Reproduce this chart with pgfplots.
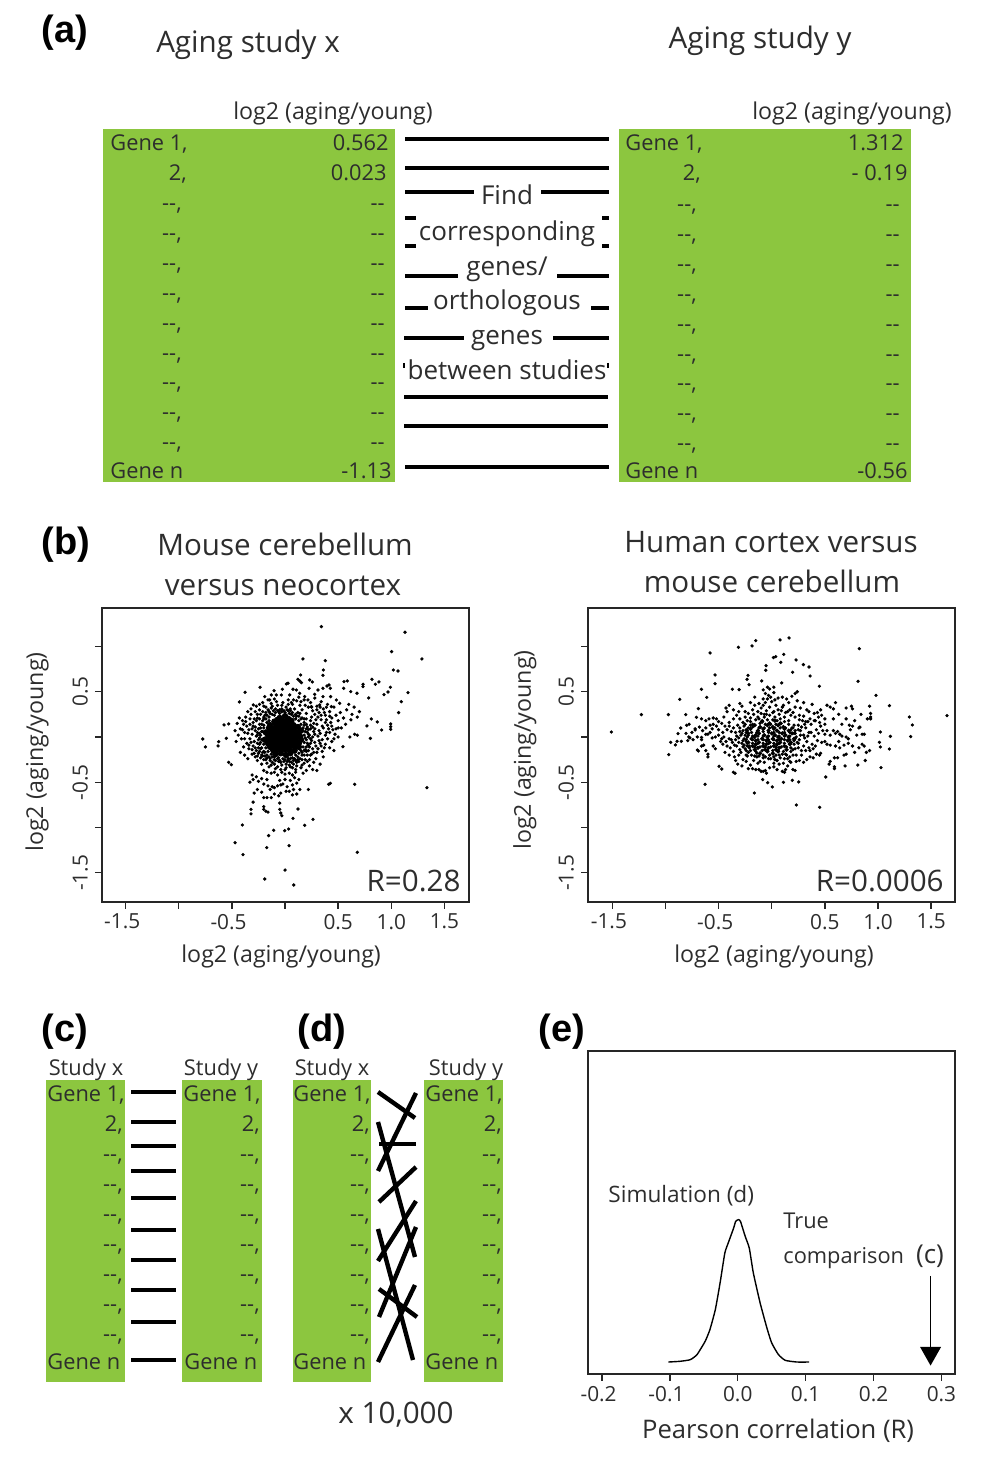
\documentclass[border=0pt]{standalone}
\usepackage{fontspec}
\usepackage{pgfplots}
\pgfplotsset{compat=1.18}
\setmainfont{Open Sans}
\newfontfamily\boldf{Liberation Sans}[BoldFont={Liberation Sans Bold}]
\definecolor{gr}{RGB}{140,198,63}
\definecolor{tx}{RGB}{45,45,45}
% sizes
\newcommand{\fa}{\fontsize{11.6}{13}\selectfont}
\newcommand{\fg}{\fontsize{10.9}{13}\selectfont}
\newcommand{\fm}{\fontsize{13}{15}\selectfont}
\newcommand{\fb}{\fontsize{14.8}{17}\selectfont}
\newcommand{\ft}{\fontsize{10.4}{12}\selectfont}
\pgfplotsset{
  sc/.style={
    scale only axis, width=183.5pt, height=147pt, anchor=south west,
    axis line style={line width=0.8pt,black!85},
    tick style={line width=0.7pt,black!85},
    tick align=outside, major tick length=3.5pt,
    xtick pos=bottom, ytick pos=left,
    ymin=-1.823, ymax=1.425,
    xtick={-1.5,-1,-0.5,0,0.5,1,1.5},
    xticklabels={\llap{-}1.5,,\llap{-}0.5,,0.5,1.0,1.5},
    ytick={-1.5,-1,-0.5,0,0.5,1},
    yticklabels={-1.5,,-0.5,,0.5,},
    tick label style={font=\ft,text=tx},
    xticklabel style={yshift=1pt},
    yticklabel style={rotate=90,anchor=south,yshift=0pt},
    label style={font=\fa,text=tx},
    clip=false,
  },
  dot/.style={only marks,mark=*,mark size=0.62pt,mark options={fill=black,draw=none}},
  core/.style={only marks,mark=*,mark size=1.4pt,mark options={fill=black,draw=none}},
  corer/.style={only marks,mark=*,mark size=0.85pt,mark options={fill=black,draw=none}},
}
\begin{document}
\begin{tikzpicture}
\useasboundingbox (0,0) rectangle (500pt,736pt);
% ---- scatter 1
\begin{axis}[sc, at={(51pt,285pt)}, xmin=-1.722, xmax=1.731,
  xlabel={log2 (aging/young)}, ylabel={log2 (aging/young)},
  xlabel style={at={(axis description cs:0.488,-0.187)},anchor=center},
  ylabel style={at={(axis description cs:-0.177,0.51)},anchor=center,rotate=0}]
\addplot[core] coordinates {
(-.05,.21)(.0,.23)(.03,.2)
(-.1,.17)(-.07,.19)(-.03,.18)(.01,.17)(.06,.18)
(-.14,.13)(-.09,.14)(-.05,.14)(-.01,.14)(.03,.14)(.08,.13)
(-.15,.10)(-.12,.09)(-.08,.10)(-.04,.10)(0,.10)(.04,.10)(.08,.09)(.12,.11)
(-.18,.05)(-.13,.06)(-.09,.06)(-.05,.06)(-.01,.06)(.03,.06)(.07,.06)(.11,.05)(.15,.07)
(-.16,.02)(-.14,.02)(-.10,.02)(-.06,.02)(-.02,.02)(.02,.02)(.06,.02)(.10,.02)(.14,.01)
(-.19,-.03)(-.14,-.02)(-.10,-.02)(-.06,-.02)(-.02,-.02)(.02,-.02)(.06,-.02)(.10,-.02)(.15,-.03)
(-.16,-.07)(-.13,-.06)(-.09,-.06)(-.05,-.06)(-.01,-.06)(.03,-.06)(.07,-.06)(.11,-.06)(.13,-.07)
(-.14,-.11)(-.11,-.10)(-.07,-.10)(-.03,-.10)(.01,-.10)(.05,-.10)(.09,-.10)(.13,-.11)
(-.11,-.15)(-.08,-.14)(-.04,-.14)(0,-.14)(.04,-.14)(.09,-.15)
(-.09,-.19)(-.04,-.18)(.01,-.2)(.05,-.18)
};
\addplot[dot] coordinates {
(.342,1.219)(1.129,1.157)(1.003,.943)(1.288,.862)(.169,.862)(.379,.843)(.361,.740)(.357,.681)(1.019,.740)(1.063,.729)(.147,.685)(.818,.637)(.884,.608)(.850,.582)(.555,.611)(.586,.619)(.552,.538)(.734,.582)(.734,.556)(.991,.549)(.969,.497)(.931,.468)(1.157,.490)(.677,.483)(.618,.501)(.787,.431)(1.094,.390)(1.069,.269)(.812,.199)(.868,.166)(.771,.122)(.909,.077)(.994,.144)(.994,.114)(.994,.085)(.803,-.015)(1.335,-.560)(.655,-.523)(.680,-1.274)(.411,-.523)(.426,-.512)(.263,-.910)(.185,-.976)(.075,-.899)(.122,-.796)(.034,-1.017)(-.003,-1.035)(.038,-1.201)(-.107,-1.031)(-.154,-1.090)(-.172,-1.223)(-.401,-.972)(-.470,-1.168)(-.395,-1.300)(0,-1.470)(-.191,-1.569)(.082,-1.635)(-.774,-.022)(-.749,-.110)(-.630,-.099)(-.624,-.052)(-.574,.133)(-.530,.144)(-.552,-.015)(-.530,-.280)(-.505,-.306)(-.376,.494)(-.429,.387)(-.235,.549)(-.298,.354)
(.013,.586)(.028,.593)(.122,.637)(.138,.619)(.154,.6)(.232,.63)(.257,.608)(.226,.538)(.107,.519)(.075,.527)(-.025,.527)(-.103,.512)(-.082,.464)(-.129,.464)(-.191,.446)(-.144,.409)(-.034,.464)(.044,.464)(.138,.483)(.279,.471)(.395,.563)(.414,.575)(.426,.538)(.357,.538)(.31,.519)(.185,.446)(.216,.409)(.357,.446)(.429,.446)(.483,.409)(.514,.372)(.436,.335)(.389,.328)(.326,.354)(.248,.335)
(-.27,.34)(-.24,.30)(-.21,.38)(-.18,.33)(-.15,.28)(-.13,.37)(-.10,.42)(-.07,.35)(-.05,.30)(-.02,.38)(.01,.33)(.03,.41)(.05,.29)(.07,.36)(.09,.31)(.11,.40)(.12,.27)(.14,.35)(.16,.30)(.18,.41)(.20,.26)(.22,.33)(.24,.38)(.26,.29)(.28,.43)(.30,.34)(.32,.27)(.34,.39)(.36,.31)(.38,.24)(.40,.36)(.42,.28)(.44,.21)(.46,.33)(.48,.24)(.50,.18)(.52,.27)(.55,.21)(.58,.30)(.60,.36)(.63,.25)(.65,.33)(.68,.22)(.70,.28)(.62,.19)(.57,.14)(.53,.10)
(-.45,.15)(-.42,.09)(-.40,.18)(-.38,.05)(-.36,.12)(-.44,.02)(-.41,-.02)(-.47,.07)(-.33,.20)(-.30,.16)(-.34,.08)(-.31,.03)(-.28,.11)(-.26,.21)(-.24,.14)(-.22,.06)(-.27,.01)(-.25,-.03)(-.29,-.05)(-.33,-.02)(-.36,-.07)(-.39,-.11)(-.34,-.13)(-.30,-.10)(-.27,-.15)(-.24,-.08)(-.22,-.12)(-.20,.10)(-.21,.18)(-.23,.25)(-.28,.28)(-.32,.25)(-.37,.22)(-.43,.21)(-.46,-.05)(-.42,-.17)(-.38,-.2)(-.35,-.24)(-.31,-.19)(-.28,-.22)(-.25,-.18)(-.22,-.2)(-.2,-.16)
(.18,.2)(.2,.14)(.22,.08)(.24,.18)(.26,.11)(.28,.03)(.3,.14)(.32,.07)(.34,.19)(.36,.1)(.38,.02)(.4,.13)(.42,.05)(.44,.12)(.46,-.02)(.48,.09)(.18,.02)(.2,-.03)(.22,-.09)(.24,-.02)(.26,-.13)(.28,-.06)(.3,-.17)(.32,-.04)(.34,-.1)(.36,-.22)(.38,-.08)(.4,-.02)(.42,-.12)(.44,-.05)(.46,-.15)(.19,-.14)(.21,-.2)(.23,-.25)(.25,-.19)(.27,-.28)(.29,-.24)(.33,-.3)(.35,-.16)(.47,.03)(.5,.1)(.545,-.107)(.61,0)(.655,.03)(.68,.02)(.5,0)
(-.26,-.26)(-.22,-.3)(-.18,-.25)(-.15,-.33)(-.12,-.28)(-.09,-.35)(-.06,-.27)(-.03,-.31)(0,-.36)(.03,-.26)(.05,-.33)(.08,-.3)(.1,-.36)(.13,-.27)(.15,-.34)(.18,-.29)(.2,-.37)(.23,-.32)(.26,-.36)(.3,-.37)(.17,-.4)(.1,-.39)(.07,-.42)(.04,-.4)(0,-.41)(-.03,-.39)(-.07,-.42)(-.1,-.39)(-.13,-.4)(-.17,-.39)(-.2,-.37)
(-.31,-.42)(-.3,-.47)(-.33,-.5)(-.27,-.44)(-.25,-.49)(-.22,-.46)(-.2,-.52)(-.16,-.54)(-.14,-.58)(-.12,-.55)(-.1,-.56)(-.07,-.54)(-.04,-.53)(-.02,-.52)(-.17,-.47)(-.05,-.48)(0,-.47)(.02,-.55)(.05,-.48)(.07,-.53)(.09,-.45)(.11,-.51)(.13,-.47)(.04,-.6)(.01,-.6)(.08,-.58)(.11,-.63)(.07,-.64)(-.04,-.62)(-.06,-.65)(-.1,-.63)(-.13,-.67)(-.17,-.67)(-.2,-.67)(-.22,-.61)(-.26,-.58)(-.29,-.62)(-.3,-.72)(-.32,-.8)(-.32,-.85)(-.2,-.77)(-.18,-.82)(-.16,-.83)(-.2,-.8)(-.05,-.73)(-.05,-.8)(-.04,-.84)(-.03,-.87)(.14,-.58)(.22,-.58)
(-.19,.24)(-.15,.22)(-.12,.25)(-.09,.27)(-.05,.26)(0,.27)(.04,.26)(.08,.23)(.1,.2)(.13,.18)(.15,.14)(.17,.1)(.19,.06)(.19,-.01)(.18,-.06)(.17,-.11)(.15,-.15)(.13,-.18)(.1,-.2)(.07,-.23)(.03,-.24)(-.02,-.24)(-.06,-.23)(-.1,-.22)(-.13,-.19)(-.16,-.16)(-.18,-.12)(-.2,-.08)(-.22,-.03)(-.23,.02)(-.21,.06)(-.2,.13)(-.17,.16)(-.15,.18)(-.24,.04)(.22,.03)(.24,.09)(.16,-.2)(.1,-.26)(-.14,-.24)(-.19,-.21)
(-.26,.05)(-.25,.09)(-.28,.07)(-.31,.09)(-.26,-.07)(-.28,-.12)(-.23,-.13)(-.25,-.12)(-.21,-.17)(-.19,-.17)(-.17,-.2)(-.15,-.22)(-.12,-.22)(-.09,-.26)(-.07,-.24)(-.04,-.28)(-.01,-.27)(.01,-.3)(.02,-.27)(.05,-.24)(.06,-.28)(.09,-.24)(.11,-.28)(.12,-.22)(.14,-.24)(.16,-.25)(.18,-.2)(.2,-.16)(.22,-.15)(.23,-.11)(.24,-.07)(.25,-.04)(.26,0)(.23,.02)(.21,.05)(.27,.06)(.28,.09)(.24,.13)(.21,.11)(.18,.16)(.2,.2)(.16,.21)(.13,.23)(.14,.26)(.1,.25)(.07,.27)(.05,.31)(.02,.3)(-.01,.29)(-.03,.31)(-.06,.28)(-.09,.31)(-.11,.29)(-.13,.32)(-.16,.3)(-.18,.27)(-.21,.28)(-.2,.22)(-.24,.2)(-.27,.18)(-.3,.12)(-.29,.2)(-.33,.14)(-.35,.04)(-.32,-.06)(-.34,-.09)(-.38,-.02)(-.4,.08)(-.39,.14)(-.37,.17)(-.31,-.14)(-.29,-.18)(-.26,-.21)(-.23,-.23)(-.2,-.25)(-.17,-.29)(-.13,-.31)(-.1,-.3)(-.07,-.33)(-.04,-.36)(.01,-.34)(.04,-.31)(.07,-.34)(.11,-.32)(.16,-.31)(.19,-.25)(.21,-.27)(.24,-.2)(.27,-.17)(.29,-.1)(.31,-.13)(.33,-.07)(.35,-.03)(.37,-.12)(.39,.05)(.31,.01)(.33,.04)(.35,.12)(.38,.16)(.41,.09)(.43,.16)(.45,.08)(.27,.15)(.29,.19)(.31,.22)(.25,.22)(.28,.25)(.34,.24)(.37,.27)(.33,.33)(.39,.19)(.42,.23)(.3,.3)(.25,.33)(.19,.35)(.15,.39)(.13,.44)(.08,.41)(.06,.38)(.03,.36)(-.03,.35)(-.08,.39)(-.12,.34)(-.16,.41)(-.2,.34)(-.24,.36)(-.26,.25)(-.32,.31)(-.35,.28)
(-.2,.2)(-.17,.24)(-.14,.26)(-.1,.24)(-.07,.29)(-.03,.28)(.03,.29)(.06,.25)(.11,.23)(.15,.2)(.18,.13)(.2,.09)(.22,0)(.21,-.07)(.2,-.11)(.18,-.15)(.16,-.17)(.12,-.25)(.08,-.26)(.04,-.27)(0,-.25)(-.05,-.26)(-.1,-.25)(-.14,-.26)(-.17,-.23)(-.21,-.21)(-.24,-.16)(-.23,-.06)(-.24,-.01)(-.26,.02)(-.23,.1)(-.22,.14)(-.18,.2)
};
\node[font=\fb,text=tx,anchor=east,inner sep=0pt] at (axis description cs:0.978,0.07) {R=0.28};
\end{axis}
% ---- scatter 2
\begin{axis}[sc, at={(294pt,285pt)}, xmin=-1.728, xmax=1.724,
  xlabel={log2 (aging/young)}, ylabel={log2 (aging/young)},
  xlabel style={at={(axis description cs:0.507,-0.187)},anchor=center},
  ylabel style={at={(axis description cs:-0.172,0.517)},anchor=center,rotate=0}]
\addplot[corer] coordinates {
(-.09,.17)(-.02,.15)(.03,.18)(.08,.15)
(-.16,.13)(-.11,.11)(-.04,.13)(.01,.11)(.06,.13)(.11,.11)
(-.2,.09)(-.13,.07)(-.08,.09)(-.03,.07)(.02,.09)(.05,.07)(.12,.09)(.16,.07)
(-.22,.04)(-.15,.02)(-.12,.04)(-.07,.02)(0,.04)(.03,.02)(.1,.04)(.13,.02)(.19,.04)
(-.19,-.02)(-.16,0)(-.09,-.02)(-.04,0)(.01,-.02)(.06,0)(.09,-.02)(.16,0)(.21,-.02)
(-.22,-.06)(-.15,-.04)(-.12,-.06)(-.05,-.04)(-.02,-.06)(.05,-.04)(.08,-.06)(.15,-.04)(.18,-.06)
(-.18,-.1)(-.15,-.08)(-.08,-.1)(-.05,-.08)(.02,-.1)(.05,-.08)(.12,-.1)(.17,-.08)
(-.16,-.14)(-.13,-.12)(-.06,-.14)(-.03,-.12)(.04,-.14)(.07,-.12)(.14,-.14)
(-.11,-.18)(-.04,-.16)(.01,-.18)(.06,-.16)
};
\addplot[dot] coordinates {
(-1.508,.055)(-1.226,.247)(-.972,.247)(-.969,-.195)(-.809,.247)(-.865,.416)(-.661,.527)(-.611,.438)(-.58,.928)(-.533,.685)(-.533,.589)(-.37,.527)(-.307,.523)(-.313,.991)(-.185,1.006)(-.15,1.064)(.078,1.072)(.163,1.094)(.824,.976)(.016,.877)(.038,.888)(.113,.913)(.085,.825)(.229,.851)(.298,.799)(.351,.773)(.197,.715)(.361,.674)(-.053,.788)(-.056,.737)(-.223,.681)(-.232,.637)(-.213,.578)(-.094,.619)(.094,.597)(.448,.56)(.812,.615)(.981,.46)(1.107,.346)(1.649,.236)(1.295,.221)(1.323,.133)(1.307,.004)(1.116,.007)(1.107,-.133)(1.022,.055)(1.013,-.059)(1.022,-.11)(1.028,-.339)(-.627,-.523)(-.163,-.619)(.232,-.751)(.451,-.777)(.508,-.442)(.006,-.552)(-.038,-.505)(-.085,-.471)(.11,-.501)(.194,-.479)(.254,-.497)(-.495,-.324)(-.47,-.354)(-.361,-.39)(-.345,-.401)(-.95,-.059)(-.906,-.088)(-.89,-.048)(-.85,-.048)(-.881,.037)(-.856,.099)(-.8,.129)(-.777,.14)(-.806,.04)(-.79,-.04)(-.77,-.01)(-.74,-.03)(-.78,0)(-.721,.077)(-.708,.217)(-.69,.313)(-.699,-.144)(-.69,-.155)(-.66,-.005)(-.66,-.1)(-.6,.03)(-.6,-.22)
(-.3,.37)(-.28,.34)(-.25,.28)(-.31,.28)(-.22,.26)(-.2,.38)(-.18,.3)(-.16,.35)(-.13,.28)(-.1,.32)(-.08,.42)(-.06,.38)(-.04,.42)(-.03,.46)(-.01,.44)(0,.39)(.02,.49)(-.06,.48)(-.08,.52)(-.04,.55)(-.02,.53)(.02,.55)(.03,.41)(.06,.43)(.1,.44)(.11,.35)(.14,.42)(.16,.38)(.19,.45)(.22,.48)(.24,.5)(.24,.4)(.22,.33)(.27,.32)(.3,.38)(.33,.3)(.35,.28)(.38,.36)(.4,.26)(.44,.22)(.46,.3)(.43,.27)(.47,.24)(.5,.2)(.55,.33)(.52,.35)(.58,.31)(.6,.38)(.63,.25)(.7,.32)(.75,.34)(.76,.31)(.84,.25)(.92,.34)(.93,.26)(.9,.2)
(.06,.3)(.09,.29)(.13,.27)(.17,.3)(.2,.27)(.26,.24)(.3,.23)(.36,.2)(.4,.18)(.32,.17)(-.02,.33)(-.05,.29)(.02,.28)(-.13,.22)(-.17,.25)(-.2,.21)(-.23,.18)(-.27,.16)(-.3,.2)(-.33,.24)(-.36,.3)(-.4,.35)(-.43,.32)(-.42,.28)(-.45,.22)
(-.66,.2)(-.62,.18)(-.59,.2)(-.55,.21)(-.52,.2)(-.5,.17)(-.47,.15)(-.58,.13)(-.55,.14)(-.52,.12)(-.5,.08)(-.56,.09)(-.62,.1)(-.65,.07)(-.68,.11)(-.72,.09)(-.75,.05)(-.7,0)(-.66,-.03)(-.62,.03)(-.58,.05)(-.56,-.01)(-.53,0)(-.5,.02)(-.48,-.05)(-.45,0)(-.47,-.02)(-.42,.08)(-.4,.12)(-.38,.06)(-.36,.1)(-.34,.05)(-.32,.13)(-.3,.1)(-.28,.04)(-.26,.12)(-.24,.08)(-.4,-.02)(-.37,-.06)(-.34,-.03)(-.31,-.01)(-.28,-.07)(-.26,-.02)(-.24,-.05)(-.22,.02)(-.2,.13)(-.42,-.1)(-.39,-.12)(-.36,-.16)(-.33,-.1)(-.3,-.14)(-.27,-.11)(-.24,-.15)(-.21,-.1)(-.55,-.1)(-.53,-.13)(-.46,-.08)(-.64,-.09)(-.62,-.15)(-.6,-.19)(-.44,-.17)(-.4,-.2)(-.35,-.22)(-.31,-.2)(-.27,-.25)(-.23,-.21)(-.34,-.26)(-.32,-.3)(-.28,-.32)(-.24,-.27)(-.2,-.31)(-.18,-.35)(-.22,-.35)(-.15,-.36)(-.12,-.36)(-.1,-.38)(-.08,-.38)(-.06,-.37)(-.05,-.4)(-.02,-.34)(.02,-.33)(.05,-.36)(.1,-.38)(.12,-.39)(.13,-.36)(.15,-.32)(.2,-.36)(.22,-.37)(.18,-.28)(.23,-.27)(.26,-.26)(.3,-.28)(.33,-.25)(.36,-.22)(.39,-.23)(.42,-.19)(.45,-.2)(.46,-.18)(.55,-.27)(.54,-.3)(.59,-.23)(.62,-.23)(.59,-.33)(.59,-.35)(.69,-.32)(.81,-.31)(.88,-.26)(.92,-.15)(.89,-.17)(.87,-.1)(.85,-.08)(.82,-.12)(.78,-.17)(.76,-.1)(.72,-.07)(.7,-.19)(.68,-.2)(.68,-.09)(.64,-.12)(.63,-.05)(.6,-.1)(.55,-.09)(.52,-.08)(.5,-.05)(.47,-.06)(.43,-.04)(.41,-.1)(.38,-.08)(.35,-.12)(.33,-.05)(.3,-.1)(.28,-.15)(.25,-.07)(.22,-.13)(.2,-.2)(.17,-.22)(.14,-.2)(.12,-.24)(.08,-.23)(.05,-.26)(.02,-.22)(-.03,-.24)(-.08,-.23)(-.11,-.27)(-.14,-.22)(-.17,-.26)(-.19,-.2)
(.2,.1)(.22,.04)(.25,.13)(.27,.07)(.3,.02)(.32,.1)(.35,.05)(.37,.14)(.4,.01)(.42,.08)(.44,.04)(.46,.12)(.48,.07)(.5,.03)(.52,.07)(.55,.02)(.58,.07)(.6,.04)(.62,.06)(.64,.03)(.66,.01)(.7,0)(.72,-.02)(.74,.08)(.76,.12)(.73,.13)(.8,.02)(.82,.1)(.83,.11)(.85,.03)(.87,.03)(.93,.2)(.93,.22)(.78,.18)(.66,.14)(.7,.2)(.58,.2)(.5,.14)(.45,.16)(.41,.18)
(-.12,.2)(-.07,.22)(-.02,.24)(.03,.22)(.08,.2)(.12,.17)(.16,.14)(.19,.1)(.22,-.02)(.24,-.06)(.18,-.16)(.1,-.19)(.04,-.2)(-.02,-.2)(-.08,-.2)(-.14,-.18)(-.2,-.15)(-.23,-.1)(-.25,.02)(-.23,.07)(-.18,.14)
(-.22,.1)(-.18,.11)(-.12,.1)(-.07,.1)(-.02,.1)(.03,.1)(.08,.1)(.13,.1)(.18,.08)(.22,.07)(-.24,.05)(-.19,.05)(-.14,.05)(-.08,.06)(-.03,.05)(.02,.05)(.07,.05)(.12,.05)(.17,.05)(.21,.04)(-.23,0)(-.18,.01)(-.13,.01)(-.08,.01)(-.03,.01)(.02,.01)(.07,.01)(.12,.01)(.17,.01)(.23,0)(-.24,-.03)(-.18,-.03)(-.13,-.03)(-.08,-.03)(-.03,-.03)(.02,-.03)(.07,-.03)(.12,-.03)(.17,-.03)(.21,-.04)(-.23,-.07)(-.18,-.07)(-.13,-.07)(-.08,-.07)(-.03,-.07)(.02,-.07)(.07,-.07)(.12,-.07)(.17,-.07)(.21,-.08)(-.21,-.12)(-.16,-.11)(-.11,-.11)(-.06,-.11)(-.01,-.11)(.04,-.11)(.09,-.11)(.14,-.11)(.18,-.12)(-.15,-.16)(-.09,-.15)(-.04,-.15)(.01,-.15)(.06,-.15)(.11,-.16)(-.11,.15)(-.06,.14)(-.01,.14)(.04,.14)(.09,.15)(-.04,.19)(.01,.19)(.05,.18)(-.09,.18)
(-.27,.07)(-.29,.02)(-.27,-.04)(-.26,-.09)(-.25,-.13)(-.22,-.17)(-.16,-.21)(-.12,-.21)(-.06,-.22)(-.01,-.24)(.03,-.25)(.07,-.2)(.13,-.19)(.15,-.24)(.2,-.14)(.25,-.12)(.26,-.03)(.27,.02)(.25,.08)(.21,.13)(.16,.18)(.12,.22)(.07,.25)(.01,.27)(-.05,.25)(-.1,.26)(-.15,.19)(-.2,.17)(-.25,.14)(-.3,.06)(-.33,.01)(-.31,-.06)(-.35,-.09)(-.29,-.17)(-.24,-.2)(-.13,-.29)(-.07,-.28)(.02,-.29)(.07,-.3)(.11,-.29)(.17,-.27)(.23,-.2)(.28,-.2)(.32,-.15)(.36,-.15)(.39,-.13)(.31,-.01)(.34,.01)(.37,.05)(.28,.11)(.31,.14)(.34,.17)(.29,.18)(.26,.19)(.22,.22)(.18,.24)(.15,.28)(.1,.33)(.04,.35)(-.08,.35)(-.12,.37)(-.16,.44)(-.07,.25)(-.25,.22)(-.36,.2)(-.4,.16)(-.44,.12)(-.46,.05)(-.43,-.05)(-.38,-.03)
};
\node[font=\fb,text=tx,anchor=east,inner sep=0pt] at (axis description cs:0.97,0.07) {R=0.0006};
\end{axis}
% ---- density
\begin{axis}[scale only axis, width=183.5pt, height=161.5pt, anchor=south west, at={(294pt,49pt)},
  xmin=-0.2205, xmax=0.32, ymin=-1.35, ymax=35.04,
  axis line style={line width=0.8pt,black!85},
  tick style={line width=0.7pt,black!85},
  tick align=outside, major tick length=3.5pt,
  xtick pos=bottom, ytick=\empty,
  xtick={-0.2,-0.1,0,0.1,0.2,0.3},
  xticklabels={\llap{-}0.2,\llap{-}0.1,0.0,0.1,0.2,0.3},
  tick label style={font=\ft,text=tx},
  xticklabel style={yshift=1pt},
  xlabel={Pearson correlation (R)},
  xlabel style={font=\fontsize{12.8}{15}\selectfont,text=tx,at={(axis description cs:0.518,-0.176)},anchor=center},
  clip=false]
\addplot[black,line width=0.7pt,smooth,tension=0.3] coordinates {
(-.102,0)(-.085,.08)(-.070,.26)(-.060,.83)(-.048,2.33)(-.041,3.64)(-.033,5.90)(-.026,8.90)(-.019,12.28)(-.014,13.41)(-.006,15.10)(-.003,15.85)(.001,16.04)(.004,15.85)(.011,14.16)(.017,12.84)(.023,10.03)(.033,6.65)(.043,3.83)(.050,2.15)(.060,.83)(.070,.19)(.087,0)(.105,0)};
\addplot[black,line width=0.6pt] coordinates {(.284,9.7)(.284,1)};
\addplot[fill=black,draw=none] coordinates {(.2685,1.7)(.2995,1.7)(.284,-.4)} -- cycle;
\end{axis}
% ---- schematic, in reference pixels
\begin{scope}[x=0.5pt,y=-0.5pt,shift={(0pt,736pt)}]
\tikzset{t/.style={font=\fg,text=tx,inner sep=0pt,yshift=-0.5pt},tl/.style={t,anchor=base west},tr/.style={t,anchor=base east},tc/.style={t,anchor=base},
 m/.style={font=\fm,text=tx,inner sep=0pt,anchor=base,yshift=-0.5pt},
 h/.style={font=\boldf\bfseries\fontsize{19}{21}\selectfont,text=black,inner sep=0pt,anchor=base west},
 bt/.style={font=\fb,text=tx,inner sep=0pt,anchor=base,yshift=-0.5pt},
 ln/.style={line width=2pt,black}}
\fill[gr] (103,129) rectangle (395,482);
\fill[gr] (619,129) rectangle (911,482);
\node[h] at (41,43) {(a)};
\node[h] at (41,555) {(b)};
\node[h] at (41,1042) {(c)};
\node[h] at (297,1042) {(d)};
\node[h] at (538,1042) {(e)};
\node[bt] at (248,52) {Aging study x};
\node[bt] at (760,48) {Aging study y};
\node[tc,font=\fa] at (333,119) {log2 (aging/young)};
\node[tc,font=\fa] at (852,119) {log2 (aging/young)};
\node[bt] at (285,555) {Mouse cerebellum};
\node[bt] at (283,595) {versus neocortex};
\node[bt] at (771,552) {Human cortex versus};
\node[bt] at (772,592) {mouse cerebellum};
% left table
\node[tl] at (110,150) {Gene 1,};\node[tr] at (187,180) {2,};
\node[tr] at (389,150) {0.562};\node[tr] at (387,180) {0.023};
\foreach \y in {210,240,270,300,330,360,389,419,449}{\node[tr] at (182,\y) {-{}-,};\node[tr] at (385,\y) {-{}-};}
\node[tl] at (110,478) {Gene n};\node[tr] at (392,478) {-1.13};
% right table
\node[tl] at (625,150) {Gene 1,};\node[tr] at (701,180) {2,};
\node[tr] at (904,150) {1.312};\node[tr] at (908,180) {- 0.19};
\foreach \y in {211,241,271,301,331,361,390,420,450}{\node[tr] at (697,\y) {-{}-,};\node[tr] at (900,\y) {-{}-};}
\node[tl] at (625,478) {Gene n};\node[tr] at (908,478) {-0.56};
% middle
\foreach \a/\b/\y in {405/609/139,405/609/168,405/474/192,541/609/192,405/416/218,602/609/218,405/416/246,602/609/246,405/458/276,557/609/276,405/428/308,591/609/308,404/464/338,553/609/338,404/608/397,404/608/426,405/609/467}{\draw[ln] (\a,\y)--(\b,\y);}
\draw[line width=1pt] (404,363)--(404,368);\draw[line width=1pt] (608,363)--(608,368);
\node[m] at (507,204) {Find};
\node[m] at (507,240) {corresponding};
\node[m] at (507,275) {genes/};
\node[m] at (507,309) {orthologous};
\node[m] at (507,344) {genes};
\node[m] at (507,379) {between studies};
% panel c
\fill[gr] (46,1080) rectangle (125,1382);\fill[gr] (182,1080) rectangle (262,1382);
\node[tc] at (86,1075) {Study x};\node[tc] at (221,1075) {Study y};
\node[tl] at (47,1101) {Gene 1,};\node[tl] at (183,1101) {Gene 1,};
\node[tr] at (123,1131) {2,};\node[tr] at (260,1131) {2,};
\foreach \y in {1161,1191,1221,1251,1281,1311,1341}{\node[tr] at (123,\y) {-{}-,};\node[tr] at (260,\y) {-{}-,};}
\node[tl] at (47,1369) {Gene n};\node[tl] at (184,1369) {Gene n};
\foreach \y in {1092,1122,1146,1171,1198,1230,1260,1290,1322,1360}{\draw[ln] (131,\y)--(176,\y);}
% panel d
\fill[gr] (293,1080) rectangle (371,1382);\fill[gr] (424,1080) rectangle (503,1382);
\node[tc] at (332,1075) {Study x};\node[tc] at (466,1075) {Study y};
\node[tl] at (293,1101) {Gene 1,};\node[tl] at (425,1101) {Gene 1,};
\node[tr] at (370,1131) {2,};\node[tr] at (502,1131) {2,};
\foreach \y in {1161,1191,1221,1251,1281,1311,1341}{\node[tr] at (370,\y) {-{}-,};\node[tr] at (502,\y) {-{}-,};}
\node[tl] at (293,1369) {Gene n};\node[tl] at (425,1369) {Gene n};
\foreach \a/\b/\c/\d in {378/1092/415/1118,416/1093/378/1171,378/1122/415/1257,379/1144/416/1144,416/1167/379/1202,416/1201/378/1261,378/1229/413/1360,416/1227/379/1317,379/1289/417/1317,415/1285/378/1362}{\draw[line width=2.2pt,black] (\a,\b)--(\c,\d);}
\node[bt] at (396,1423) {x 10,000};
% panel e
\node[tl,font=\fontsize{11.3}{13}\selectfont] at (608,1202) {Simulation (d)};
\node[tl] at (783,1228) {True};
\node[tl] at (783,1263) {comparison};
\node[tc,font=\fm] at (930,1263) {(c)};
\end{scope}
\end{tikzpicture}
\end{document}
